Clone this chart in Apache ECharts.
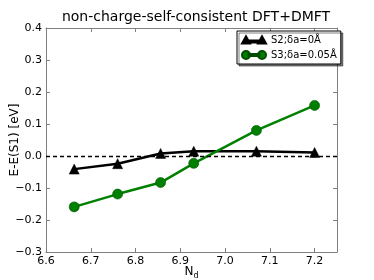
<!DOCTYPE html>
<html><head><meta charset="utf-8">
<script src="https://cdn.jsdelivr.net/npm/echarts@6/dist/echarts.min.js"></script>
<style>html,body{margin:0;padding:0;background:#fff}#c{width:374px;height:280px}</style>
</head><body><div id="c"></div>
<script>
const xS2 = [6.663, 6.760, 6.856, 6.930, 7.070, 7.200];
const yS2 = [-0.041, -0.024, 0.008, 0.015, 0.015, 0.011];
const xS3 = [6.663, 6.760, 6.856, 6.930, 7.070, 7.200];
const yS3 = [-0.159, -0.119, -0.083, -0.023, 0.080, 0.158];
const nameS2 = 'S2;δa=0Å';
const nameS3 = 'S3;δa=0.05Å';
const titleText = 'non-charge-self-consistent DFT+DMFT';
const xName = 'N{sub|d}';
const yName = 'E-E(S1) [eV]';

const font = 'DejaVu Sans';
const fmt = v => {
  const s = (Math.round(v * 10) / 10).toFixed(1);
  return s.replace('-', '\u2212');
};
const chart = echarts.init(document.getElementById('c'), null, {renderer: 'canvas'});
const frame = '#808080';
const triIcon = 'path://M0,10 L5,1 L10,10 Z M5,6 L25,6 L25,8.5 L5,8.5 Z M20,10 L25,1 L30,10 Z';
const cirIcon = 'path://M0,5 A5,5 0 1,1 10,5 A5,5 0 1,1 0,5 Z M8,3.8 L22,3.8 L22,6.2 L8,6.2 Z M20,5 A5,5 0 1,1 30,5 A5,5 0 1,1 20,5 Z';
chart.setOption({
  animation: false,
  textStyle: {fontFamily: font},
  title: {
    text: titleText, left: 191, top: 5, textAlign: 'center',
    textStyle: {fontFamily: font, fontSize: 14, fontWeight: 'normal', color: '#000'}
  },
  legend: {
    left: 237, top: 31, orient: 'vertical',
    backgroundColor: '#fff', borderColor: '#000', borderWidth: 1,
    shadowColor: 'rgba(0,0,0,0.5)', shadowOffsetX: 2, shadowOffsetY: 2, shadowBlur: 0,
    padding: [4, 4, 4, 4], itemGap: 5, itemWidth: 24, itemHeight: 9,
    textStyle: {fontFamily: font, fontSize: 10, color: '#000'},
    data: [
      {name: nameS2, icon: triIcon},
      {name: nameS3, icon: cirIcon}
    ]
  },
  grid: {left: 46, right: 37, top: 28, bottom: 28, containLabel: false, outerBoundsMode: 'none'},
  xAxis: [{
    type: 'value', min: 6.6, max: 7.25, interval: 0.1,
    name: xName, nameLocation: 'middle', nameGap: 12, nameMoveOverlap: false,
    nameTextStyle: {fontFamily: font, fontSize: 12, color: '#000',
      rich: {sub: {fontSize: 8, verticalAlign: 'bottom', padding: [8, 0, 0, 0], fontFamily: font}}},
    axisLine: {onZero: false, lineStyle: {color: frame, width: 1}},
    axisTick: {inside: true, length: 4, lineStyle: {color: frame}},
    axisLabel: {formatter: fmt, color: '#000', fontSize: 11, margin: 4, showMaxLabel: false, fontFamily: font},
    splitLine: {show: false}
  }, {
    type: 'value', position: 'top', min: 6.6, max: 7.25, interval: 0.1,
    axisLine: {onZero: false, lineStyle: {color: frame, width: 1}},
    axisTick: {inside: true, length: 4, lineStyle: {color: frame}},
    axisLabel: {show: false}, splitLine: {show: false}
  }],
  yAxis: [{
    type: 'value', min: -0.3, max: 0.4, interval: 0.1,
    name: yName, nameLocation: 'middle', nameGap: 25, nameMoveOverlap: false,
    nameTextStyle: {fontFamily: font, fontSize: 12, color: '#000'},
    axisLine: {onZero: false, lineStyle: {color: frame, width: 1}},
    axisTick: {inside: true, length: 4, lineStyle: {color: frame}},
    axisLabel: {formatter: fmt, color: '#000', fontSize: 11, margin: 4, fontFamily: font},
    splitLine: {show: false}
  }, {
    type: 'value', position: 'right', min: -0.3, max: 0.4, interval: 0.1,
    axisLine: {show: true, onZero: false, lineStyle: {color: frame, width: 1}},
    axisTick: {show: true, inside: true, length: 4, lineStyle: {color: frame}},
    axisLabel: {show: false}, splitLine: {show: false}
  }],
  series: [{
    name: nameS2, type: 'line',
    data: xS2.map((x, i) => [x, yS2[i]]),
    symbol: 'triangle', symbolSize: 10,
    lineStyle: {color: '#000', width: 2.5},
    itemStyle: {color: '#000', borderColor: '#000', borderWidth: 0.5},
    z: 3,
    markLine: {
      silent: true, symbol: ['none', 'none'], label: {show: false},
      lineStyle: {color: '#000', type: [4, 3], width: 1.3},
      data: [{yAxis: 0}]
    }
  }, {
    name: nameS3, type: 'line',
    data: xS3.map((x, i) => [x, yS3[i]]),
    symbol: 'circle', symbolSize: 10,
    lineStyle: {color: '#008000', width: 2.5},
    itemStyle: {color: '#008000', borderColor: '#004d00', borderWidth: 0.6},
    z: 4
  }]
});
</script></body></html>
